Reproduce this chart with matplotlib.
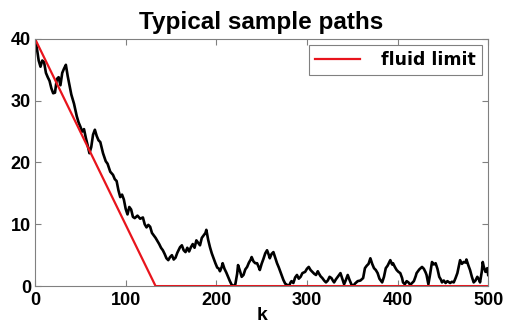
import matplotlib

matplotlib.use("Agg")
import matplotlib.pyplot as plt

plt.rcParams["font.family"] = ["Liberation Sans", "DejaVu Sans"]
plt.rcParams["font.weight"] = "bold"

# Sample path (k, queue length)
path_k = [0, 2, 4, 6, 8, 10, 12, 14, 16, 18, 20, 22, 24, 26, 28, 30, 32, 34, 36, 38,
          40, 43, 46, 48, 50, 52, 54, 56, 58, 60, 62, 64, 66, 68, 70, 72, 75, 78, 80, 83,
          86, 88, 90, 92, 94, 96, 98, 100, 102, 104, 106, 108, 110, 113, 116, 119, 121, 123, 125, 127,
          129, 131, 133, 135, 137, 139, 141, 143, 145, 147, 149, 151, 153, 155, 157, 160, 162, 164, 166, 168,
          170, 172, 174, 176, 178, 180, 182, 184, 186, 188, 189, 191, 193, 195, 197, 199, 201, 203, 204, 206,
          207, 209, 211, 213, 215, 217, 219, 221, 223, 224, 226, 228, 230, 232, 234, 236, 238, 239, 241, 243,
          245, 247, 248, 250, 252, 254, 256, 258, 259, 261, 263, 265, 267, 269, 270, 272, 274, 276, 278, 280,
          282, 283, 285, 287, 289, 291, 293, 295, 298, 300, 302, 304, 306, 308, 310, 312, 313, 315, 317, 319,
          321, 323, 325, 327, 329, 330, 332, 334, 336, 337, 339, 341, 343, 345, 347, 349, 351, 353, 356, 359,
          362, 364, 366, 368, 370, 372, 374, 376, 378, 380, 383, 385, 387, 389, 392, 394, 395, 397, 399, 401,
          403, 405, 406, 408, 410, 412, 414, 416, 418, 420, 421, 424, 427, 429, 431, 432, 434, 436, 438, 440,
          442, 444, 446, 448, 449, 451, 453, 455, 458, 460, 462, 464, 466, 468, 469, 471, 473, 475, 476, 478,
          480, 482, 484, 486, 488, 490, 491, 493, 494, 495, 497, 499, 500]
path_x = [40, 38.5, 36.5, 35.5, 36.5, 36.2, 34.5, 33.8, 33.2, 32.0, 31.2, 31.3, 33.5, 33.8, 32.5, 34.5, 35.2, 35.8, 34.0, 32.5,
          31.0, 29.5, 27.5, 26.5, 25.8, 25.0, 25.4, 24.0, 22.8, 21.5, 22.5, 24.5, 25.3, 24.3, 23.6, 23.3, 21.5, 20.2, 19.8, 18.5,
          18.0, 17.3, 17.0, 15.5, 14.4, 14.8, 14.0, 12.5, 11.6, 12.8, 12.4, 11.2, 11.0, 11.4, 10.9, 11.1, 10.0, 9.5, 9.9, 9.6,
          8.6, 8.2, 7.8, 7.3, 6.8, 6.2, 5.8, 5.2, 4.5, 4.2, 4.7, 5.0, 4.3, 4.6, 5.4, 6.3, 6.6, 5.8, 5.5, 6.2,
          5.6, 6.3, 6.8, 6.2, 7.4, 7.0, 6.6, 7.8, 8.2, 8.6, 9.1, 7.5, 6.3, 5.3, 4.5, 3.7, 3.0, 2.8, 2.4, 3.1,
          3.7, 2.8, 2.2, 1.5, 0.8, 0.2, 0.0, 0.3, 2.0, 3.4, 2.5, 1.5, 1.8, 2.7, 3.1, 3.8, 4.3, 4.7, 4.0, 3.7,
          3.7, 3.0, 2.6, 3.6, 4.4, 5.3, 5.8, 5.0, 4.5, 5.2, 5.5, 4.6, 3.7, 3.0, 2.6, 1.8, 1.0, 0.4, 0.2, 0.0,
          0.6, 0.8, 0.5, 1.4, 1.8, 1.2, 1.5, 2.1, 2.3, 2.8, 3.1, 2.6, 2.3, 2.0, 1.8, 2.4, 2.1, 1.6, 1.3, 0.9,
          0.6, 0.9, 1.5, 1.3, 0.8, 0.6, 1.1, 1.5, 1.9, 2.1, 1.2, 0.3, 1.0, 1.8, 1.0, 0.3, 0.0, 0.4, 0.8, 0.9,
          1.3, 2.9, 3.3, 3.6, 4.5, 3.6, 2.9, 2.6, 2.1, 1.2, 0.6, 1.5, 2.9, 3.3, 4.2, 3.5, 3.7, 3.1, 2.6, 2.3,
          2.1, 1.3, 0.6, 0.3, 0.8, 0.6, 0.2, 0.5, 0.8, 1.6, 2.1, 2.7, 3.1, 2.8, 2.2, 1.8, 0.3, 2.0, 3.9, 3.5,
          3.7, 2.8, 1.5, 1.0, 0.6, 0.9, 0.5, 0.8, 0.5, 0.7, 0.6, 1.3, 2.1, 3.5, 4.2, 3.6, 3.9, 3.8, 4.3, 3.4,
          2.6, 1.5, 0.6, 0.9, 1.5, 1.0, 0.6, 2.4, 3.9, 3.2, 2.3, 2.9, 1.8]

# Fluid limit: straight drain from 40 to 0, then stays empty
fluid_k = [0, 133, 500]
fluid_x = [40, 0, 0]

x_ticks = [0, 100, 200, 300, 400, 500]
y_ticks = [0, 10, 20, 30, 40]

fig = plt.figure(figsize=(5.08, 3.24), dpi=100)
ax = fig.add_axes([0.069, 0.117, 0.892, 0.763])

ax.plot(path_k, path_x, color="black", linewidth=1.9)
ax.plot(fluid_k, fluid_x, color="#e8141c", linewidth=1.6, label="fluid limit")

ax.set_xlim(0, 500)
ax.set_ylim(0, 40)
ax.set_xticks(x_ticks)
ax.set_yticks(y_ticks)
ax.tick_params(direction="in", top=True, right=True, labelsize=13,
               color="#808080", length=4)
ax.tick_params(axis="x", pad=4)
ax.tick_params(axis="y", pad=3)
for lab in ax.get_xticklabels() + ax.get_yticklabels():
    lab.set_fontweight("bold")
for sp in ax.spines.values():
    sp.set_color("#808080")
    sp.set_linewidth(0.8)

ax.set_xlabel("k", fontsize=14, fontweight="bold", labelpad=-1)
ax.set_title("Typical sample paths", fontsize=17.5, fontweight="bold", pad=7)

leg = ax.legend(loc="upper right",
                prop={"family": "DejaVu Sans", "weight": "bold", "size": 12.5},
                fancybox=False, edgecolor="#808080", framealpha=1,
                handlelength=2.6, handletextpad=1.2, borderpad=0.35,
                borderaxespad=0.35)
leg.get_frame().set_linewidth(0.8)

fig.savefig("out.png", dpi=100)
